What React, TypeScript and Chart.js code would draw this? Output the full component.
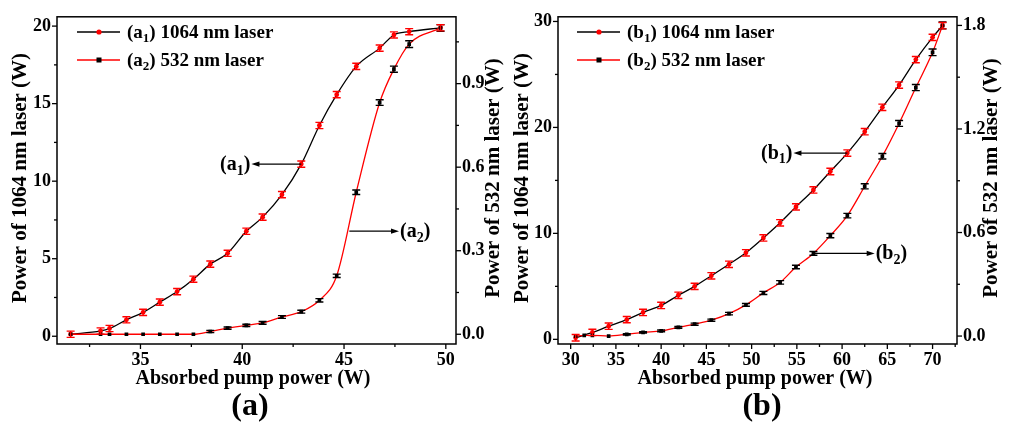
import React, { useEffect, useRef } from 'react';
import { Chart, registerables } from 'chart.js';
Chart.register(...registerables);

const FONT = '"Liberation Serif", "Times New Roman", serif';
const RED = '#ff0000';
const BLACK = '#000000';

// ---------- Panel (a) data ----------
const A_PUMP = [31.57, 33.04, 33.48, 34.31, 35.13, 35.95, 36.8, 37.6, 38.43, 39.28, 40.2, 41.0, 41.95, 42.9, 43.79, 44.64, 45.6, 46.75, 47.45, 48.2, 49.74];
const A_1064 = [0.13, 0.34, 0.5, 1.06, 1.54, 2.2, 2.88, 3.68, 4.65, 5.35, 6.77, 7.68, 9.13, 11.1, 13.59, 15.58, 17.4, 18.58, 19.43, 19.64, 19.89];
const A_532 = [0.0, 0.0, 0.0, 0.0, 0.0, 0.0, 0.0, 0.0, 0.01, 0.022, 0.032, 0.041, 0.062, 0.081, 0.122, 0.21, 0.51, 0.832, 0.952, 1.042, 1.1];
const A_ERR_1064 = [0.2, 0.2, 0.2, 0.2, 0.2, 0.2, 0.2, 0.2, 0.2, 0.2, 0.2, 0.2, 0.2, 0.2, 0.2, 0.2, 0.2, 0.2, 0.2, 0.2, 0.2];
const A_ERR_532 = [0, 0, 0, 0, 0, 0, 0, 0, 0.004, 0.004, 0.004, 0.005, 0.005, 0.005, 0.006, 0.006, 0.008, 0.01, 0.011, 0.012, 0.012];
const A_X_TICKS = [35, 40, 45, 50];
const A_YL_TICKS = [0, 5, 10, 15, 20];
const A_YR_TICKS = [0, 0.3, 0.6, 0.9];

// ---------- Panel (b) data ----------
const B_PUMP_1064 = [30.55, 32.4, 34.2, 36.2, 38.0, 40.0, 41.9, 43.7, 45.55, 47.5, 49.37, 51.3, 53.15, 54.9, 56.83, 58.7, 60.58, 62.5, 64.45, 66.3, 68.15, 70.0, 71.1];
const B_1064 = [0.15, 0.65, 1.24, 1.86, 2.54, 3.2, 4.16, 5.0, 6.0, 7.08, 8.17, 9.57, 11.0, 12.5, 14.1, 15.84, 17.58, 19.6, 21.9, 24.0, 26.4, 28.5, 29.6];
const B_PUMP_532 = [30.55, 31.5, 32.4, 34.2, 36.2, 38.0, 40.0, 41.9, 43.7, 45.55, 47.5, 49.37, 51.3, 53.15, 54.9, 56.83, 58.7, 60.58, 62.5, 64.45, 66.3, 68.15, 70.0, 71.1];
const B_532 = [0.0, 0.004, 0.004, 0.0, 0.01, 0.021, 0.03, 0.05, 0.069, 0.092, 0.13, 0.181, 0.25, 0.311, 0.4, 0.479, 0.582, 0.698, 0.868, 1.042, 1.232, 1.44, 1.644, 1.8];
const B_ERR_1064 = [0.3, 0.3, 0.3, 0.3, 0.3, 0.3, 0.3, 0.3, 0.3, 0.3, 0.3, 0.3, 0.3, 0.3, 0.3, 0.3, 0.3, 0.3, 0.3, 0.3, 0.3, 0.3, 0.3];
const B_ERR_532 = [0, 0, 0, 0, 0.004, 0.004, 0.005, 0.005, 0.006, 0.006, 0.007, 0.008, 0.009, 0.01, 0.01, 0.011, 0.012, 0.013, 0.015, 0.016, 0.017, 0.018, 0.019, 0.02];
const B_X_TICKS = [30, 35, 40, 45, 50, 55, 60, 65, 70];
const B_YL_TICKS = [0, 10, 20, 30];
const B_YR_TICKS = [0, 0.6, 1.2, 1.8];

const X_TITLE = 'Absorbed pump power (W)';
const YL_TITLE = 'Power of 1064 nm laser (W)';
const YR_TITLE = 'Power of 532 nm laser (W)';

type Seg = { t: string; sub?: boolean };

function drawRich(ctx: CanvasRenderingContext2D, segs: Seg[], x: number, y: number, size: number, align: 'left' | 'right' | 'center') {
  const main = `bold ${size}px ${FONT}`;
  const sub = `bold ${Math.round(size * 0.68)}px ${FONT}`;
  let w = 0;
  for (const s of segs) {
    ctx.font = s.sub ? sub : main;
    w += ctx.measureText(s.t).width;
  }
  let cx = align === 'left' ? x : align === 'right' ? x - w : x - w / 2;
  ctx.textAlign = 'left';
  ctx.textBaseline = 'alphabetic';
  ctx.fillStyle = BLACK;
  for (const s of segs) {
    ctx.font = s.sub ? sub : main;
    ctx.fillText(s.t, cx, s.sub ? y + size * 0.22 : y);
    cx += ctx.measureText(s.t).width;
  }
}

function arrow(ctx: CanvasRenderingContext2D, x1: number, y1: number, x2: number, y2: number) {
  const ang = Math.atan2(y2 - y1, x2 - x1);
  const L = 8, H = 2.6;
  ctx.strokeStyle = BLACK;
  ctx.lineWidth = 1.2;
  ctx.beginPath();
  ctx.moveTo(x1, y1);
  ctx.lineTo(x2 - Math.cos(ang) * L * 0.6, y2 - Math.sin(ang) * L * 0.6);
  ctx.stroke();
  ctx.fillStyle = BLACK;
  ctx.beginPath();
  ctx.moveTo(x2, y2);
  ctx.lineTo(x2 - Math.cos(ang) * L - Math.sin(ang) * H, y2 - Math.sin(ang) * L + Math.cos(ang) * H);
  ctx.lineTo(x2 - Math.cos(ang) * L + Math.sin(ang) * H, y2 - Math.sin(ang) * L - Math.cos(ang) * H);
  ctx.closePath();
  ctx.fill();
}

type Annot = { letter: string; sub: string; fx: number; fy: number; axis: 'yL' | 'yR'; tx: number };

type PanelCfg = {
  left: number;
  width: number;
  lw: number;
  rw: number;
  top: number;
  xh: number;
  xMin: number; xMax: number; xTicks: number[];
  yLMin: number; yLMax: number; yLTicks: number[];
  yRMin: number; yRMax: number; yRTicks: number[];
  pump1064: number[]; p1064: number[]; err1064: number[];
  pump532: number[]; p532: number[]; err532: number[];
  letter: string;
  panelLabel: string;
  annots: Annot[];
  titleLX: number; titleRX: number; titleY: number;
  xTitleX: number; xTitleY: number;
  labelX: number; labelY: number;
  legX: number;
};

const TICK_FONT = { family: FONT, size: 18, weight: 'bold' as const };
const TITLE_SIZE = 20;

function minorTicks(ctx: CanvasRenderingContext2D, scale: any, majors: number[], side: 'left' | 'right' | 'bottom', edge: number) {
  const step = majors[1] - majors[0];
  const half = step / 2;
  ctx.strokeStyle = BLACK;
  ctx.lineWidth = 1.3;
  const start = majors[0] - Math.floor((majors[0] - scale.min) / half) * half;
  for (let v = start; v <= scale.max + 1e-9; v += half) {
    const isMajor = majors.some((m) => Math.abs(m - v) < 1e-6);
    const len = isMajor ? 5 : 3;
    const p = scale.getPixelForValue(v);
    ctx.beginPath();
    if (side === 'left') { ctx.moveTo(edge, p); ctx.lineTo(edge - len, p); }
    else if (side === 'right') { ctx.moveTo(edge, p); ctx.lineTo(edge + len, p); }
    else { ctx.moveTo(p, edge); ctx.lineTo(p, edge + len); }
    ctx.stroke();
  }
}

function makeDecor(cfg: PanelCfg) {
  return {
    id: 'decor' + cfg.letter,
    afterDatasetsDraw(chart: any) {
      const ctx: CanvasRenderingContext2D = chart.ctx;
      const { x, yL, yR } = chart.scales;
      ctx.save();
      const drawErr = (xs: number[], ys: number[], errs: number[], sc: any, color: string) => {
        ctx.strokeStyle = color;
        ctx.lineWidth = 1.4;
        xs.forEach((xv, i) => {
          const err = errs[i];
          if (!err) return;
          const px = x.getPixelForValue(xv);
          const t = sc.getPixelForValue(ys[i] + err);
          const b = sc.getPixelForValue(ys[i] - err);
          ctx.beginPath();
          ctx.moveTo(px, t); ctx.lineTo(px, b);
          ctx.moveTo(px - 4, t); ctx.lineTo(px + 4, t);
          ctx.moveTo(px - 4, b); ctx.lineTo(px + 4, b);
          ctx.stroke();
        });
      };
      drawErr(cfg.pump532, cfg.p532, cfg.err532, yR, BLACK);
      drawErr(cfg.pump1064, cfg.p1064, cfg.err1064, yL, RED);
      ctx.restore();
    },
    afterDraw(chart: any) {
      const ctx: CanvasRenderingContext2D = chart.ctx;
      const a = chart.chartArea;
      const { x, yL, yR } = chart.scales;
      ctx.save();
      ctx.strokeStyle = BLACK;
      ctx.lineWidth = 1.5;
      ctx.strokeRect(a.left, a.top, a.right - a.left, a.bottom - a.top);
      minorTicks(ctx, x, cfg.xTicks, 'bottom', a.bottom);
      minorTicks(ctx, yL, cfg.yLTicks, 'left', a.left);
      minorTicks(ctx, yR, cfg.yRTicks, 'right', a.right);

      ctx.fillStyle = BLACK;
      ctx.font = `bold ${TITLE_SIZE + 1}px ${FONT}`;
      ctx.textAlign = 'center';
      ctx.textBaseline = 'middle';
      ctx.save();
      ctx.translate(cfg.titleLX, cfg.titleY);
      ctx.rotate(-Math.PI / 2);
      ctx.fillText(YL_TITLE, 0, 0);
      ctx.restore();
      ctx.save();
      ctx.translate(cfg.titleRX, cfg.titleY);
      ctx.rotate(-Math.PI / 2);
      ctx.fillText(YR_TITLE, 0, 0);
      ctx.restore();
      ctx.font = `bold ${TITLE_SIZE}px ${FONT}`;
      ctx.fillText(X_TITLE, cfg.xTitleX, cfg.xTitleY);
      ctx.font = `bold 32px ${FONT}`;
      ctx.fillText(cfg.panelLabel, cfg.labelX, cfg.labelY);

      const legRows = [
        { line: BLACK, mark: RED, sq: false, sub: '1', txt: ') 1064 nm laser', y: 32 },
        { line: RED, mark: BLACK, sq: true, sub: '2', txt: ') 532 nm laser', y: 60 },
      ];
      for (const r of legRows) {
        ctx.strokeStyle = r.line;
        ctx.lineWidth = 1.3;
        ctx.beginPath();
        ctx.moveTo(cfg.legX, r.y);
        ctx.lineTo(cfg.legX + 43, r.y);
        ctx.stroke();
        ctx.fillStyle = r.mark;
        const mx = cfg.legX + 22;
        if (r.sq) ctx.fillRect(mx - 2.5, r.y - 2.5, 5, 5);
        else { ctx.beginPath(); ctx.arc(mx, r.y, 2.6, 0, Math.PI * 2); ctx.fill(); }
        drawRich(ctx, [{ t: '(' + cfg.letter }, { t: r.sub, sub: true }, { t: r.txt }], cfg.legX + 50, r.y + 6, 19, 'left');
      }

      for (const an of cfg.annots) {
        const sc = an.axis === 'yL' ? yL : yR;
        const fx = x.getPixelForValue(an.fx);
        const fy = sc.getPixelForValue(an.fy);
        const tx = x.getPixelForValue(an.tx);
        arrow(ctx, fx, fy, tx, fy);
        const segs = [{ t: '(' + an.letter }, { t: an.sub, sub: true }, { t: ')' }];
        if (tx < fx) drawRich(ctx, segs, tx - 1, fy + 6, 20, 'right');
        else drawRich(ctx, segs, tx + 1, fy + 6, 20, 'left');
      }
      ctx.restore();
    },
  };
}

function buildConfig(cfg: PanelCfg): any {
  const setTicks = (vals: number[]) => (s: any) => { s.ticks = vals.map((v) => ({ value: v })); };
  const common = {
    type: 'linear',
    grid: { display: false, drawTicks: false },
    border: { display: false },
  };
  return {
    type: 'line',
    data: {
      datasets: [
        {
          label: '532',
          data: cfg.pump532.map((v, i) => ({ x: v, y: cfg.p532[i] })),
          yAxisID: 'yR',
          borderColor: RED,
          borderWidth: 1.3,
          pointStyle: 'rect',
          pointRadius: 2.6,
          pointBackgroundColor: BLACK,
          pointBorderColor: BLACK,
          pointBorderWidth: 0,
          cubicInterpolationMode: 'monotone',
        },
        {
          label: '1064',
          data: cfg.pump1064.map((v, i) => ({ x: v, y: cfg.p1064[i] })),
          yAxisID: 'yL',
          borderColor: BLACK,
          borderWidth: 1.3,
          pointStyle: 'circle',
          pointRadius: 2.4,
          pointBackgroundColor: RED,
          pointBorderColor: RED,
          pointBorderWidth: 0,
          cubicInterpolationMode: 'monotone',
        },
      ],
    },
    options: {
      animation: false,
      responsive: false,
      maintainAspectRatio: false,
      layout: { padding: { top: cfg.top, left: 0, right: 0, bottom: 0 } },
      plugins: { legend: { display: false }, tooltip: { enabled: false } },
      scales: {
        x: {
          ...common,
          position: 'bottom',
          min: cfg.xMin,
          max: cfg.xMax,
          afterBuildTicks: setTicks(cfg.xTicks),
          afterFit: (s: any) => { s.height = cfg.xh; },
          ticks: { font: TICK_FONT, color: BLACK, padding: 6, maxRotation: 0, autoSkip: false, callback: (v: any) => String(v) },
        },
        yL: {
          ...common,
          position: 'left',
          min: cfg.yLMin,
          max: cfg.yLMax,
          afterBuildTicks: setTicks(cfg.yLTicks),
          afterFit: (s: any) => { s.width = cfg.lw; },
          ticks: { font: TICK_FONT, color: BLACK, padding: 6, autoSkip: false, callback: (v: any) => String(v) },
        },
        yR: {
          ...common,
          position: 'right',
          min: cfg.yRMin,
          max: cfg.yRMax,
          afterBuildTicks: setTicks(cfg.yRTicks),
          afterFit: (s: any) => { s.width = cfg.rw; },
          ticks: { font: TICK_FONT, color: BLACK, padding: 6, autoSkip: false, callback: (v: any) => Number(v).toFixed(1) },
        },
      },
    },
    plugins: [makeDecor(cfg)],
  };
}

const PANEL_A: PanelCfg = {
  left: 0, width: 505, lw: 57, rw: 49, top: 11, xh: 79,
  xMin: 30.9, xMax: 50.5, xTicks: A_X_TICKS,
  yLMin: -0.5, yLMax: 20.6, yLTicks: A_YL_TICKS,
  yRMin: -0.035, yRMax: 1.14, yRTicks: A_YR_TICKS,
  pump1064: A_PUMP, p1064: A_1064, err1064: A_ERR_1064,
  pump532: A_PUMP, p532: A_532, err532: A_ERR_532,
  letter: 'a', panelLabel: '(a)',
  annots: [
    { letter: 'a', sub: '1', fx: 42.9, fy: 11.1, axis: 'yL', tx: 40.45 },
    { letter: 'a', sub: '2', fx: 45.26, fy: 0.37, axis: 'yR', tx: 47.7 },
  ],
  titleLX: 21, titleRX: 494, titleY: 178,
  xTitleX: 253, xTitleY: 379,
  labelX: 250, labelY: 407,
  legX: 77,
};

const PANEL_B: PanelCfg = {
  left: 505, width: 506, lw: 53, rw: 54, top: 13, xh: 79,
  xMin: 28.6, xMax: 72.7, xTicks: B_X_TICKS,
  yLMin: -0.44, yLMax: 30.44, yLTicks: B_YL_TICKS,
  yRMin: -0.046, yRMax: 1.85, yRTicks: B_YR_TICKS,
  pump1064: B_PUMP_1064, p1064: B_1064, err1064: B_ERR_1064,
  pump532: B_PUMP_532, p532: B_532, err532: B_ERR_532,
  letter: 'b', panelLabel: '(b)',
  annots: [
    { letter: 'b', sub: '1', fx: 60.58, fy: 17.58, axis: 'yL', tx: 54.62 },
    { letter: 'b', sub: '2', fx: 56.83, fy: 0.479, axis: 'yR', tx: 63.6 },
  ],
  titleLX: 18, titleRX: 487, titleY: 178,
  xTitleX: 250, xTitleY: 379,
  labelX: 257, labelY: 407,
  legX: 72,
};

function Panel({ cfg }: { cfg: PanelCfg }) {
  const ref = useRef<HTMLCanvasElement>(null);
  useEffect(() => {
    if (!ref.current) return;
    const chart = new Chart(ref.current, buildConfig(cfg));
    return () => chart.destroy();
  }, [cfg]);
  return (
    <canvas
      ref={ref}
      width={cfg.width}
      height={423}
      style={{ position: 'absolute', left: cfg.left, top: 0, width: cfg.width, height: 423 }}
    />
  );
}

export default function App() {
  useEffect(() => {
    document.body.style.margin = '0';
    document.body.style.background = '#ffffff';
  }, []);
  return (
    <div style={{ position: 'relative', width: 1011, height: 423, background: '#fff', overflow: 'hidden' }}>
      <Panel cfg={PANEL_A} />
      <Panel cfg={PANEL_B} />
    </div>
  );
}
